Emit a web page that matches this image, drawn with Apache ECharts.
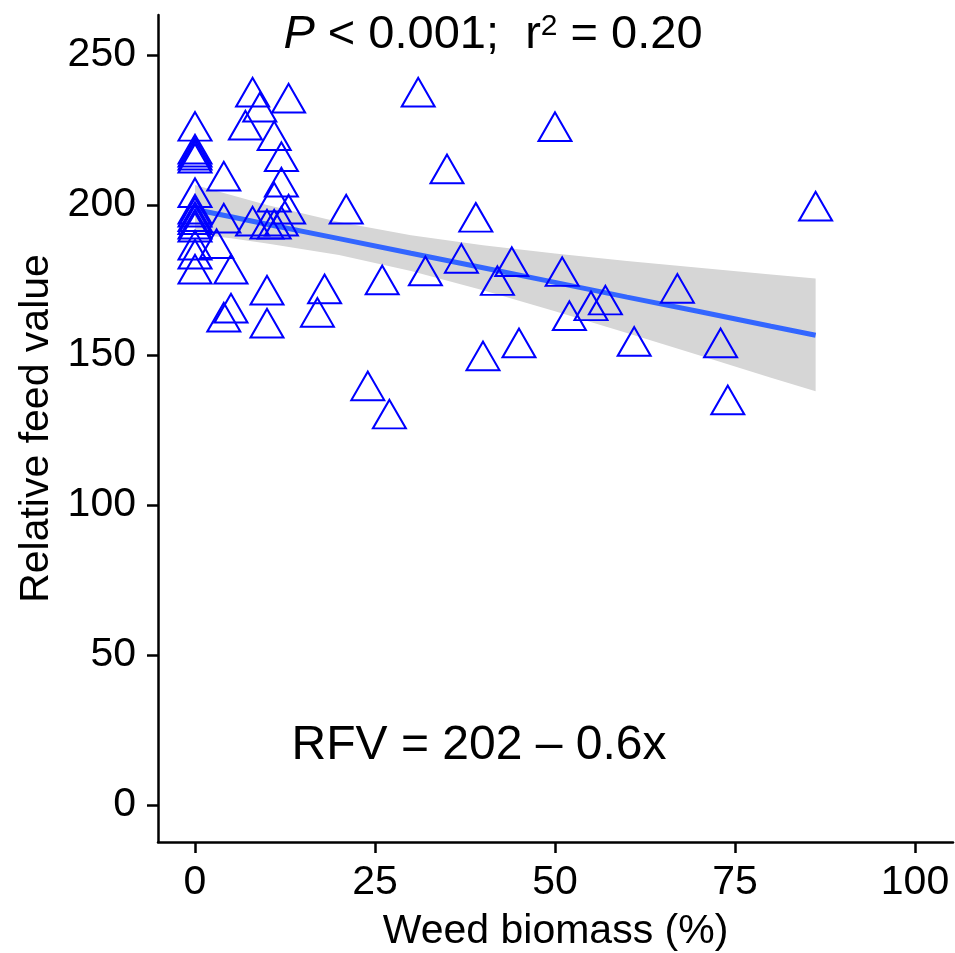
<!DOCTYPE html>
<html>
<head>
<meta charset="utf-8">
<script src="https://cdn.jsdelivr.net/npm/echarts@6/dist/echarts.min.js"></script>
<style>
  html, body { margin: 0; padding: 0; background: #fff; }
  #chart { width: 955px; height: 953px; }
</style>
</head>
<body>
<div id="chart"></div>
<script>
// Weed biomass (%) and relative feed value of each sample
const weedBiomass = [
  0, 0, 0, 0, 0, 0, 0, 0, 0, 0, 0, 0, 0, 0, 0,
  3, 4, 4, 5, 5, 4,
  8, 13, 9, 7, 11, 12, 12, 11, 13, 8, 11, 12, 10, 10, 10,
  17, 18, 21, 24, 26, 27,
  31, 32, 35, 37, 39, 40, 42, 44, 45, 50, 51, 52, 55, 57, 61, 67, 73, 74, 86.2
];
const feedValue = [
  224.6, 217, 216, 215, 214, 202.5, 197, 196, 194.5, 193.5, 192, 191, 185, 182, 177,
  185.5, 194, 208, 177, 164, 161,
  236, 234, 231, 225, 221.5, 214.5, 206, 201, 197, 193, 192, 193, 192, 170, 159,
  162.6, 170.4, 197, 138.1, 173.4, 128.7,
  236, 176.4, 210.4, 180.6, 194.3, 148.1, 173.2, 179.5, 152.4, 224.5, 176.2, 161.5,
  164.8, 166.7, 152.9, 170.6, 152.4, 133.4, 198
];

// Fitted line and its confidence band
const fitX     = [0, 5, 10, 20, 30, 40, 50, 60, 70, 80, 86.2];
const fitY     = [198.5, 196.1, 193.6, 188.8, 183.9, 179.1, 174.2, 169.3, 164.5, 159.6, 156.6];
const bandUp   = [206.7, 203.3, 200.0, 194.3, 189.9, 186.6, 183.8, 181.3, 179.1, 176.8, 175.5];
const bandLow  = [190.3, 188.9, 187.2, 183.3, 178.0, 171.6, 164.6, 157.3, 149.9, 142.4, 137.9];

// Axis ticks
const xTicks = [0, 25, 50, 75, 100];
const yTicks = [0, 50, 100, 150, 200, 250];

const FONT = "'Liberation Sans', Arial, sans-serif";

const points = weedBiomass.map((x, i) => [x, feedValue[i]]);
const fitLine = fitX.map((x, i) => [x, fitY[i]]);

const chart = echarts.init(document.getElementById('chart'), null, { renderer: 'canvas' });

const axisCommon = {
  axisLine: { show: true, onZero: false, lineStyle: { color: '#000', width: 2.5 } },
  axisTick: { show: true, length: 11, lineStyle: { color: '#000', width: 2.5 } },
  splitLine: { show: false },
  nameLocation: 'middle',
  nameTextStyle: { color: '#000', fontSize: 41, fontFamily: FONT }
};

chart.setOption({
  animation: false,
  backgroundColor: '#fff',
  grid: { left: 158, right: 2, top: 15, bottom: 111, containLabel: false, outerBoundsMode: 'none' },
  xAxis: Object.assign({}, axisCommon, {
    type: 'value',
    min: -5.14, max: 105.28,
    name: 'Weed biomass (%)',
    nameGap: 69,
    axisTick: Object.assign({}, axisCommon.axisTick, { customValues: xTicks }),
    axisLabel: { customValues: xTicks, color: '#000', fontSize: 41, fontFamily: FONT, margin: 20 }
  }),
  yAxis: Object.assign({}, axisCommon, {
    type: 'value',
    min: -12.33, max: 263.33,
    name: 'Relative feed value',
    nameGap: 100,
    axisTick: Object.assign({}, axisCommon.axisTick, { customValues: yTicks }),
    axisLabel: { customValues: yTicks, color: '#000', fontSize: 41, fontFamily: FONT, margin: 22 }
  }),
  series: [
    {
      // confidence band drawn as one polygon through the axis scales
      type: 'custom',
      data: [0],
      z: 1,
      silent: true,
      renderItem: function (params, api) {
        const pts = [];
        for (let i = 0; i < fitX.length; i++) pts.push(api.coord([fitX[i], bandUp[i]]));
        for (let i = fitX.length - 1; i >= 0; i--) pts.push(api.coord([fitX[i], bandLow[i]]));
        return { type: 'polygon', shape: { points: pts }, style: { fill: '#D6D6D6' } };
      }
    },
    {
      type: 'line',
      data: fitLine,
      z: 2,
      symbol: 'none',
      silent: true,
      lineStyle: { color: '#3366FF', width: 5 }
    },
    {
      type: 'scatter',
      data: points,
      z: 3,
      symbol: 'triangle',
      symbolSize: [33, 28.6],
      symbolOffset: [0, -4.8],
      itemStyle: { color: 'rgba(0,0,0,0)', borderColor: '#0000FF', borderWidth: 2, opacity: 1 }
    }
  ],
  graphic: [
    {
      type: 'text',
      x: 493, y: 35,
      style: {
        text: '{i|P} < 0.001;  r{s|2} = 0.20',
        font: '47px ' + FONT,
        fill: '#000',
        align: 'center',
        verticalAlign: 'middle',
        rich: {
          i: { fontStyle: 'italic', fontSize: 47, fontFamily: FONT, fill: '#000' },
          s: { fontSize: 30, fontFamily: FONT, verticalAlign: 'top', padding: [0, 0, 14, 0], fill: '#000' }
        }
      }
    },
    {
      type: 'text',
      x: 479, y: 746,
      style: {
        text: 'RFV = 202 \u2013 0.6x',
        font: '48px ' + FONT,
        fill: '#000',
        align: 'center',
        verticalAlign: 'middle'
      }
    }
  ]
});
</script>
</body>
</html>
